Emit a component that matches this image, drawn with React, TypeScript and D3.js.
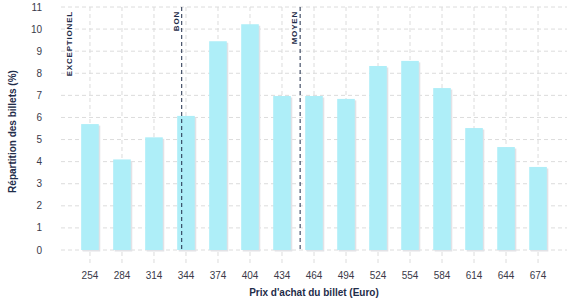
import React from "react";
import * as d3 from "d3";

const categories = ["254", "284", "314", "344", "374", "404", "434", "464", "494", "524", "554", "584", "614", "644", "674"];
const values = [5.7, 4.1, 5.1, 6.07, 9.45, 10.22, 6.97, 6.97, 6.84, 8.33, 8.56, 7.33, 5.52, 4.66, 3.76];
const yTicks = [0, 1, 2, 3, 4, 5, 6, 7, 8, 9, 10, 11];
const markerLabels = ["EXCEPTIONEL", "BON", "MOYEN"];
const markerPrices = [240, 340, 451];
const markerLines = [false, true, true];

const W = 577, H = 300;
const left = 61, right = 567, top = 7, bottom = 250;

export default function App() {
  const x = d3.scaleBand<string>().domain(categories).range([left, right]).paddingInner(0.45).paddingOuter(0.63);
  const y = d3.scaleLinear().domain([0, 11]).range([bottom, top]);
  const priceX = d3.scaleLinear().domain([254, 674]).range([
    (x("254") as number) + x.bandwidth() / 2,
    (x("674") as number) + x.bandwidth() / 2,
  ]);
  const font = "'Liberation Sans', Arial, sans-serif";
  const navy = "#1f2d4a";
  return (
    <svg width={W} height={H} style={{ position: "absolute", left: 0, top: 0 }} fontFamily={font}>
      <rect width={W} height={H} fill="#fff" />
      {yTicks.map((t) => (
        <line key={"h" + t} x1={left} x2={right} y1={y(t)} y2={y(t)} stroke="#dcdcdc" strokeDasharray="4,3" />
      ))}
      {categories.map((c) => {
        const cx = (x(c) as number) + x.bandwidth() / 2;
        return <line key={"v" + c} x1={cx} x2={cx} y1={top} y2={bottom + 15} stroke="#dcdcdc" strokeDasharray="4,3" />;
      })}
      {categories.map((c, i) => (
        <g key={"b" + c}>
          <rect x={(x(c) as number) + 1.5} y={y(values[i]) + 1.5} width={x.bandwidth()} height={bottom - y(values[i])} fill="#e2e2e6" />
          <rect x={x(c) as number} y={y(values[i])} width={x.bandwidth()} height={bottom - y(values[i])} fill="#aeeef8" />
        </g>
      ))}
      {yTicks.map((t) => (
        <text key={"yt" + t} x={42} y={y(t)} dy="0.35em" textAnchor="end" fontSize={10} fill="#3a3a4a">{t}</text>
      ))}
      {categories.map((c) => (
        <text key={"xt" + c} x={(x(c) as number) + x.bandwidth() / 2} y={279} textAnchor="middle" fontSize={10} fill="#3a3a4a">{c}</text>
      ))}
      {markerLabels.map((m, i) => {
        const mx = priceX(markerPrices[i]);
        return (
          <g key={"m" + m}>
            {markerLines[i] && <line x1={mx} x2={mx} y1={top} y2={bottom} stroke={navy} strokeDasharray="4,3" />}
            <text transform={`translate(${mx - 3},${top + 4}) rotate(-90)`} textAnchor="end" fontSize={8} fontWeight="bold" letterSpacing={0.8} fill={navy}>{m}</text>
          </g>
        );
      })}
      <text transform={`translate(16,${(top + bottom) / 2 + 3}) rotate(-90)`} textAnchor="middle" fontSize={10} fontWeight="bold" fill={navy}>Répartition des billets (%)</text>
      <text x={(left + right) / 2} y={296} textAnchor="middle" fontSize={10} fontWeight="bold" fill={navy}>Prix d'achat du billet (Euro)</text>
    </svg>
  );
}
